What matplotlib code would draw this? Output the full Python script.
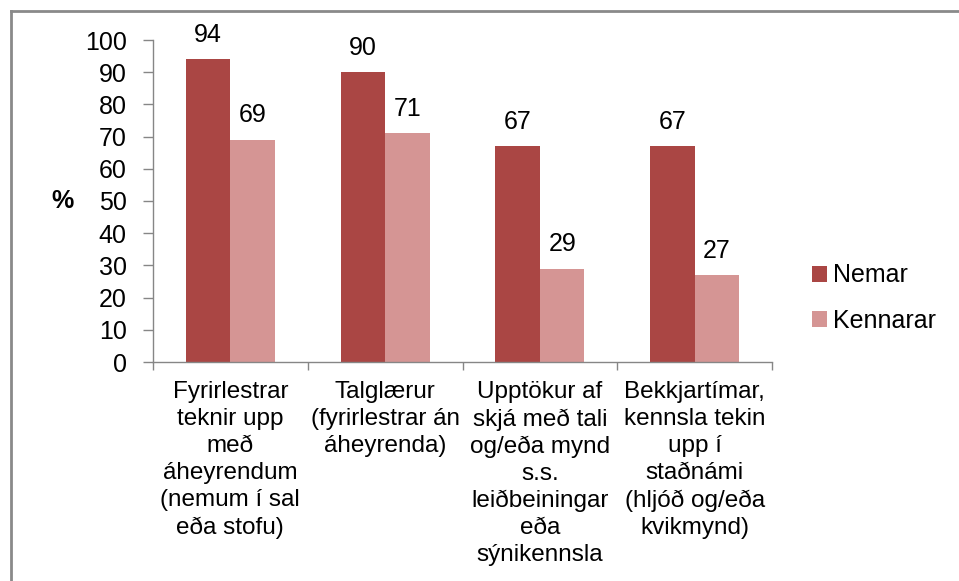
import matplotlib
matplotlib.use("Agg")
import matplotlib.pyplot as plt
from matplotlib.lines import Line2D
import numpy as np

categories = [
    "Fyrirlestrar\nteknir upp\nmeð\náheyrendum\n(nemum í sal\neða stofu)",
    "Talglærur\n(fyrirlestrar án\náheyrenda)",
    "Upptökur af\nskjá með tali\nog/eða mynd\ns.s.\nleiðbeiningar\neða\nsýnikennsla",
    "Bekkjartímar,\nkennsla tekin\nupp í\nstaðnámi\n(hljóð og/eða\nkvikmynd)",
]
series_names = ["Nemar", "Kennarar"]
nemar = [94, 90, 67, 67]
kennarar = [69, 71, 29, 27]
yticks = [0, 10, 20, 30, 40, 50, 60, 70, 80, 90, 100]

colors = ["#AA4644", "#D59594"]
plt.rcParams['font.family'] = ['Liberation Sans', 'DejaVu Sans']
FS = 18
FSX = 17.5

fig = plt.figure(figsize=(9.59, 5.81), dpi=100)
ax = fig.add_axes([153/959, 1-362/581, (772-153)/959, (362-40)/581])

x = np.arange(len(categories))
w = 0.288
b1 = ax.bar(x - w/2, nemar, w, color=colors[0], label=series_names[0])
b2 = ax.bar(x + w/2, kennarar, w, color=colors[1], label=series_names[1])

for bars, vals in ((b1, nemar), (b2, kennarar)):
    for r, v in zip(bars, vals):
        ax.annotate(str(v), (r.get_x() + r.get_width()/2, v), xytext=(0, 9),
                    textcoords="offset points", ha="center", va="bottom", fontsize=FS)

ax.set_xlim(-0.5, len(categories) - 0.5)
ax.set_ylim(0, 100)
ax.set_yticks(yticks)
ax.set_yticklabels([str(t) for t in yticks], fontsize=FS)
ax.set_xticks(x)
ax.set_xticklabels(categories, fontsize=FSX, linespacing=1.29)
ax.set_xticks(np.arange(-0.5, len(categories)), minor=True)
ax.tick_params(axis='x', which='major', length=0, pad=14)
ax.tick_params(axis='x', which='minor', length=6, color="#868686", width=1)
ax.tick_params(axis='y', length=7, color="#868686", width=1, pad=12)
for s in ("top", "right"):
    ax.spines[s].set_visible(False)
for s in ("left", "bottom"):
    ax.spines[s].set_color("#868686")
    ax.spines[s].set_linewidth(1)

fig.text(62/959, 1-201/581, "%", fontsize=FS, fontweight="bold", ha="center", va="center")

leg = fig.legend(handles=[b1, b2], loc="center left", bbox_to_anchor=(799/959, 1-298/581),
                 frameon=False, fontsize=FS, handlelength=0.6, handleheight=0.6,
                 handletextpad=0.25, labelspacing=0.85, borderpad=0)

xl = 10.5 / 959
yt = 1 - 10.5 / 581
fig.add_artist(Line2D([xl, xl], [0, yt], transform=fig.transFigure, color="#8a8a8a", linewidth=2))
fig.add_artist(Line2D([xl, 1.0], [yt, yt], transform=fig.transFigure, color="#8a8a8a", linewidth=2))

fig.savefig("out.png", dpi=100)
